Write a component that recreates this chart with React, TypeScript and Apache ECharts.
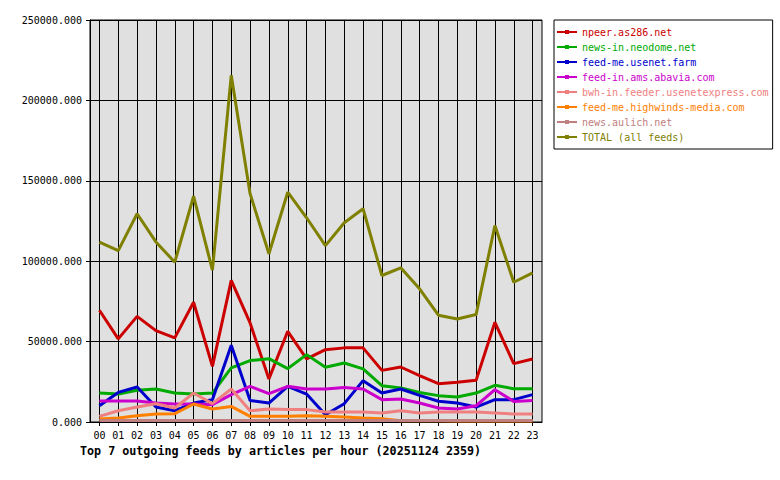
import React, { useEffect, useRef } from "react";
import * as echarts from "echarts";

const hours = [
  "00", "01", "02", "03", "04", "05", "06", "07", "08", "09", "10", "11",
  "12", "13", "14", "15", "16", "17", "18", "19", "20", "21", "22", "23",
];

const feedNames = [
  "npeer.as286.net",
  "news-in.neodome.net",
  "feed-me.usenet.farm",
  "feed-in.ams.abavia.com",
  "bwh-in.feeder.usenetexpress.com",
  "feed-me.highwinds-media.com",
  "news.aulich.net",
  "TOTAL (all feeds)",
];

const feedColors = [
  "#cc0000",
  "#00aa00",
  "#0000cc",
  "#cc00cc",
  "#f08080",
  "#ff8000",
  "#c08080",
  "#808000",
];

const npeer = [
  69500, 51700, 65700, 56800, 52300, 74500, 34600, 88100, 61600, 26800, 56400, 39200,
  45000, 46100, 46100, 32100, 34200, 28800, 23800, 24700, 25900, 62000, 36300, 39200,
];
const neodome = [
  18000, 17400, 19700, 20500, 18000, 17400, 18000, 33600, 38200, 39400, 33200, 41900,
  34000, 36700, 33000, 22600, 21200, 18400, 16400, 15600, 18000, 22800, 20700, 20700,
];
const usenetFarm = [
  10100, 18400, 21800, 9300, 7000, 11800, 13900, 47700, 13400, 11800, 22200, 17400,
  4500, 11400, 25700, 18000, 20500, 16600, 12900, 11800, 9300, 13900, 13900, 17000,
];
const abavia = [
  13100, 13100, 13000, 11800, 11200, 11200, 10800, 17000, 22200, 17600, 22200, 20500,
  20500, 21500, 20500, 13900, 14300, 11800, 8700, 8100, 10100, 20100, 12800, 13300,
];
const usenetExpress = [
  3500, 7000, 9300, 11400, 8700, 18000, 11400, 20500, 7000, 8100, 7700, 7700,
  6200, 6200, 6200, 5600, 7000, 5600, 6200, 6200, 6200, 5600, 5000, 5000,
];
const highwinds = [
  1900, 2500, 3900, 5000, 5200, 11200, 8100, 9700, 3500, 3500, 3500, 3900,
  3500, 3100, 2500, 2000, 800, 700, 700, 600, 600, 700, 600, 600,
];
const aulich = [
  1000, 1000, 1000, 1000, 1000, 1000, 1000, 1000, 1000, 1000, 1000, 1000,
  1000, 1000, 1000, 1000, 1000, 1000, 1000, 1000, 1000, 1000, 1000, 1000,
];
const total = [
  111800, 106600, 129500, 112000, 99400, 140400, 94400, 215600, 142000, 104600, 142900, 127000,
  109700, 123900, 132600, 91100, 95900, 82800, 66400, 64100, 66800, 122200, 86900, 92700,
];

const seriesValues = [npeer, neodome, usenetFarm, abavia, usenetExpress, highwinds, aulich, total];

const yTicks = { min: 0, max: 250000, interval: 50000 };

const FONT = "'DejaVu Sans Mono', monospace";

export default function App() {
  const ref = useRef<HTMLDivElement | null>(null);

  useEffect(() => {
    if (!ref.current) return;
    const chart = echarts.init(ref.current, undefined, { renderer: "svg" });

    chart.setOption({
      animation: false,
      backgroundColor: "#ffffff",
      title: {
        text: "Top 7 outgoing feeds by articles per hour (20251124 2359)",
        left: 80,
        top: 445,
        padding: 0,
        textStyle: {
          fontFamily: FONT,
          fontSize: 11.7,
          fontWeight: "bold",
          color: "#000",
        },
      },
      grid: {
        left: 90,
        top: 20,
        width: 452,
        height: 402,
        show: true,
        backgroundColor: "#e0e0e0",
        borderColor: "#000",
        borderWidth: 1,
        containLabel: false,
      },
      legend: {
        orient: "vertical",
        left: 554,
        top: 20,
        padding: [6, 4, 6, 2],
        itemGap: 3,
        itemWidth: 20,
        itemHeight: 5,
        backgroundColor: "#ffffff",
        borderColor: "#000",
        borderWidth: 1,
        borderRadius: 0,
        lineStyle: { width: 2 },
        textStyle: { fontFamily: FONT, fontSize: 10, lineHeight: 12 },
        data: feedNames.map((name, i) => ({
          name,
          textStyle: { color: feedColors[i] },
        })),
      },
      xAxis: {
        type: "category",
        data: hours,
        boundaryGap: true,
        axisLine: { show: true, lineStyle: { color: "#000", width: 1 } },
        axisTick: { show: true, alignWithLabel: true, length: 4, lineStyle: { color: "#000" } },
        axisLabel: { fontFamily: FONT, fontSize: 10, color: "#000", margin: 8, interval: 0 },
        splitLine: { show: true, alignWithLabel: true, lineStyle: { color: "#000", width: 1 } },
      },
      yAxis: {
        type: "value",
        min: yTicks.min,
        max: yTicks.max,
        interval: yTicks.interval,
        axisLine: { show: true, lineStyle: { color: "#000", width: 1 } },
        axisTick: { show: true, length: 4, lineStyle: { color: "#000" } },
        axisLabel: {
          fontFamily: FONT,
          fontSize: 10,
          color: "#000",
          margin: 8,
          formatter: (v: number) => v.toFixed(3),
        },
        splitLine: { show: true, lineStyle: { color: "#000", width: 1 } },
      },
      series: feedNames.map((name, i) => ({
        name,
        type: "line",
        data: seriesValues[i],
        symbol: "rect",
        showSymbol: false,
        color: feedColors[i],
        lineStyle: { color: feedColors[i], width: 3 },
        itemStyle: { color: feedColors[i] },
      })),
    });

    return () => chart.dispose();
  }, []);

  return (
    <div
      ref={ref}
      style={{ position: "fixed", left: 0, top: 0, width: 780, height: 480 }}
    />
  );
}
